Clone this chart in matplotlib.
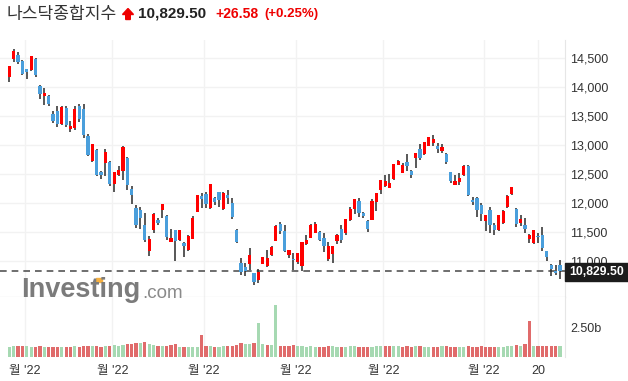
import numpy as np
import matplotlib.pyplot as plt
from matplotlib.patches import Polygon, Rectangle

# Nasdaq composite, daily, 2022-03-28 .. 2022-09-27
opens = [14184, 14483, 14552, 14448, 14300, 14305, 14483, 14006, 13857, 13833,
         13534, 13586, 13362, 13638, 13281, 13293, 13672, 13621, 13155, 12729,
         12914, 12530, 12695, 12700, 12324, 12483, 12557, 12771, 12236, 11909,
         11879, 11621, 11178, 11534, 11707, 11879, 11776, 11333, 11523, 11374,
         11305, 11202, 11391, 11851, 12121, 12155, 11926, 12081, 12178, 11897,
         12138, 11995, 11534, 10960, 10885, 10948, 10788, 10672, 10948, 10914,
         11109, 11345, 11638, 11517, 11103, 11034, 10988, 10919, 11293, 11409,
         11488, 11495, 11391, 11047, 11121, 11351, 11546, 11488, 11707, 11897,
         12023, 11827, 11690, 11719, 12023, 12236, 12300, 12264, 12414, 12667,
         12522, 12695, 12552, 12781, 12926, 12857, 12988, 13040, 12971, 12897,
         12840, 12522, 12322, 12367, 12483, 12626, 12050, 12081, 11966, 11695,
         11867, 11621, 11546, 11661, 11937, 12155, 11897, 11661, 11621, 11385,
         11316, 11431, 11448, 11161, 10931, 10830, 10919]
highs = [14369, 14655, 14598, 14462, 14305, 14540, 14494, 14034, 13978, 13862,
         13586, 13672, 13672, 13672, 13409, 13676, 13710, 13707, 13190, 13017,
         12930, 12545, 12931, 12720, 12540, 12638, 12990, 12800, 12293, 11966,
         11926, 11822, 11431, 11833, 11741, 11990, 11790, 11547, 11534, 11540,
         11320, 11440, 11776, 12138, 12167, 12190, 12320, 12110, 12190, 12190,
         12224, 12092, 11552, 11047, 10960, 11219, 10800, 10857, 11075, 11190,
         11265, 11621, 11672, 11621, 11190, 11138, 11138, 11330, 11448, 11630,
         11678, 11517, 11477, 11322, 11260, 11470, 11615, 11720, 11926, 12070,
         12081, 11851, 11707, 12064, 12178, 12400, 12483, 12500, 12672, 12740,
         12695, 12850, 12569, 12860, 13017, 13050, 13143, 13172, 13040, 13017,
         12857, 12540, 12483, 12517, 12650, 12650, 12110, 12098, 12000, 11790,
         11931, 11650, 11800, 11880, 12130, 12270, 11920, 11787, 11736, 11460,
         11540, 11478, 11592, 11178, 10940, 10931, 11010]
lows = [14092, 14426, 14391, 14205, 14133, 14281, 14167, 13788, 13685, 13678,
        13383, 13305, 13345, 13316, 13219, 13259, 13397, 13127, 12802, 12711,
        12470, 12420, 12466, 12290, 12185, 12470, 12397, 12225, 11983, 11564,
        11552, 11322, 11092, 11488, 11621, 11740, 11362, 11322, 11006, 11350,
        11074, 11180, 11374, 11840, 11909, 11914, 11897, 11966, 11932, 11879,
        11983, 11730, 11305, 10759, 10741, 10845, 10586, 10615, 10940, 10900,
        11090, 11345, 11460, 11160, 11052, 10845, 10950, 10833, 11280, 11391,
        11478, 11340, 11155, 10994, 10966, 11288, 11316, 11448, 11695, 11810,
        11753, 11736, 11506, 11707, 11867, 12155, 12281, 12254, 12397, 12650,
        12512, 12560, 12426, 12600, 12736, 12828, 12983, 12983, 12857, 12867,
        12667, 12340, 12310, 12310, 12466, 12120, 11960, 11764, 11697, 11517,
        11483, 11448, 11520, 11640, 11920, 12140, 11580, 11603, 11478, 11305,
        11290, 11305, 11178, 11006, 10741, 10759, 10690]
closes = [14354, 14620, 14442, 14220, 14261, 14532, 14204, 13888, 13897, 13711,
          13412, 13372, 13644, 13351, 13332, 13620, 13453, 13175, 12839, 13005,
          12491, 12489, 12872, 12335, 12536, 12564, 12965, 12318, 12145, 11623,
          11738, 11364, 11371, 11805, 11663, 11984, 11418, 11389, 11355, 11535,
          11265, 11435, 11741, 12131, 12081, 11994, 12317, 12013, 12061, 12175,
          12086, 11754, 11340, 10809, 10828, 11099, 10646, 10798, 11069, 11053,
          11232, 11608, 11525, 11182, 11178, 11029, 11128, 11322, 11362, 11621,
          11635, 11373, 11265, 11248, 11251, 11452, 11360, 11713, 11898, 12060,
          11834, 11783, 11563, 12032, 12163, 12391, 12369, 12349, 12668, 12721,
          12658, 12645, 12494, 12855, 12780, 13047, 13128, 13103, 12938, 12965,
          12705, 12382, 12381, 12431, 12639, 12142, 12018, 11883, 11816, 11785,
          11631, 11545, 11792, 11862, 12112, 12266, 11634, 11720, 11552, 11448,
          11535, 11425, 11220, 11067, 10868, 10803, 10830]
# volume in billions (approx)
volumes = [0.85, 0.95, 0.9, 0.95, 0.9, 0.8, 0.85, 0.95, 0.85, 0.8,
           0.85, 0.85, 0.8, 0.85, 0.8, 0.9, 0.85, 0.9, 0.95, 0.9,
           0.9, 0.85, 0.95, 0.9, 1.0, 0.95, 1.0, 1.1, 1.1, 1.2,
           1.2, 1.25, 1.1, 1.0, 0.9, 0.9, 0.95, 1.0, 1.05, 0.8,
           0.85, 0.8, 0.85, 0.8, 1.8, 0.95, 0.9, 0.85, 0.85, 0.9,
           0.95, 0.9, 1.0, 1.2, 1.1, 1.1, 1.2, 2.8, 1.1, 1.0,
           1.0, 4.3, 0.95, 0.95, 0.9, 1.0, 0.9, 0.95, 0.85, 0.9,
           0.8, 0.8, 0.85, 0.9, 0.9, 0.85, 0.8, 0.85, 0.9, 0.9,
           0.85, 0.8, 0.8, 0.85, 0.9, 0.95, 0.9, 0.95, 0.95, 0.9,
           0.85, 0.9, 0.85, 0.95, 0.9, 0.85, 0.8, 0.85, 0.85, 0.9,
           0.95, 0.85, 0.8, 0.8, 0.85, 0.95, 0.8, 0.85, 0.9, 0.85,
           0.85, 0.8, 0.85, 0.85, 0.9, 0.95, 1.0, 0.95, 1.1, 3.0,
           0.9, 0.9, 0.95, 0.9, 0.95, 0.95, 0.9]
tick_pos = [3.6, 23.6, 44.6, 65.6, 85.6, 108.6, 121]
tick_labels = ["월 '22", "월 '22", "월 '22", "월 '22", "월 '22", "월 '22", "20"]
price_ticks = [11000, 11500, 12000, 12500, 13000, 13500, 14000, 14500]
last_price = 10829.50

plt.rcParams['font.family'] = ['Liberation Sans', 'Noto Sans CJK KR', 'DejaVu Sans']

UP = '#ff0000'
DOWN = '#4a9fdc'
WICK = '#2a2a2a'
VUP = '#a6d9b2'
VDOWN = '#e06b6b'
W, H = 628, 381


def fx(x):
    return x / W


def fy(y):
    return 1 - y / H


fig = plt.figure(figsize=(6.28, 3.81), dpi=100)

ax = fig.add_axes([0, fy(297), fx(565), (297 - 40) / H])
vax = fig.add_axes([0, fy(357), fx(565), 60 / H], sharex=ax)

x = np.arange(len(closes))
o = np.array(opens)
c = np.array(closes)
up = c >= o
col = np.where(up, UP, DOWN)

ax.vlines(x, lows, highs, color=WICK, lw=1.1, zorder=2)
ax.bar(x, np.abs(c - o) + 8, bottom=np.minimum(o, c) - 4, width=0.74,
       color=col, zorder=3)
ax.axhline(last_price, color='#555555', lw=1.2, ls=(0, (4, 3)), zorder=1)

ax.set_xlim(-2.13, 127.16)
ax.set_ylim(10379.3, 14810.3)
ax.set_yticks(price_ticks)
ax.set_yticklabels(['{:,}'.format(t) for t in price_ticks])
ax.yaxis.tick_right()
ax.tick_params(axis='y', length=0, pad=4, labelsize=9, labelcolor='#333333')
ax.tick_params(axis='x', length=0, labelbottom=False)
ax.set_xticks(tick_pos)
ax.grid(True, color='#f2f2f2', lw=1)
ax.set_axisbelow(True)
for s in ax.spines.values():
    s.set_visible(False)
ax.spines['bottom'].set_visible(True)
ax.spines['bottom'].set_color('#c8c8c8')
ax.spines['right'].set_visible(True)
ax.spines['right'].set_color('#e6e6e6')

# current price tag, drawn over the 11,000 label as in the original
fig.patches.append(Rectangle((fx(565), fy(281)), 63 / W, 18 / H,
                             transform=fig.transFigure, color='#1c1c1c', zorder=5))
fig.text(fx(596.5), fy(272), '10,829.50', color='white', fontsize=8.8,
         weight='bold', ha='center', va='center', zorder=6)

# volume
prev = np.concatenate([[c[0]], c[:-1]])
vcol = np.where(c >= prev, VUP, VDOWN)
vcol[0] = VDOWN if c[0] < o[0] else VUP
vax.bar(x, volumes, width=0.74, color=vcol)
vax.set_ylim(0, 5.0)
vax.set_yticks([2.5])
vax.set_yticklabels(['2.50b'])
vax.yaxis.tick_right()
vax.tick_params(axis='y', length=0, pad=4, labelsize=9, labelcolor='#333333')
vax.set_xticks(tick_pos)
vax.set_xticklabels(tick_labels)
vax.tick_params(axis='x', length=0, pad=6, labelsize=9, labelcolor='#333333')
vax.grid(True, axis='x', color='#f2f2f2', lw=1)
vax.set_axisbelow(True)
for s in vax.spines.values():
    s.set_visible(False)
vax.spines['right'].set_visible(True)
vax.spines['right'].set_color('#e6e6e6')

# header
fig.text(fx(7), fy(14), '나스닥종합지수', fontsize=12.3, color='#333333',
         va='center', ha='left', family=['Noto Sans CJK KR', 'DejaVu Sans'])
arrow = Polygon([(fx(122.5), fy(14.5)), (fx(128), fy(8.5)), (fx(133.5), fy(14.5)),
                 (fx(130.3), fy(14.5)), (fx(130.3), fy(19.5)), (fx(125.7), fy(19.5)),
                 (fx(125.7), fy(14.5))], closed=True, transform=fig.transFigure,
                color='#ee0000')
fig.patches.append(arrow)
fig.text(fx(138), fy(14), '10,829.50', fontsize=11, weight='bold', color='#222222',
         va='center', ha='left')
fig.text(fx(215), fy(14), '+26.58', fontsize=10, weight='bold', color='#ee0000',
         va='center', ha='left')
fig.text(fx(264), fy(14), '(+0.25%)', fontsize=9.5, weight='bold', color='#ee0000',
         va='center', ha='left')

# watermark
fig.text(fx(21), fy(290), 'Investing', fontsize=19.5, weight='bold', color='#7b7b7b',
         va='center', ha='left', family=['Liberation Sans Narrow', 'Liberation Sans'])
fig.text(fx(142), fy(294), '.com', fontsize=13.5, color='#8a8a8a',
         va='center', ha='left')
fig.patches.append(Rectangle((fx(96), fy(282)), 6 / W, 4 / H,
                             transform=fig.transFigure, color='#f5b041'))

fig.savefig('out.png', dpi=100)
